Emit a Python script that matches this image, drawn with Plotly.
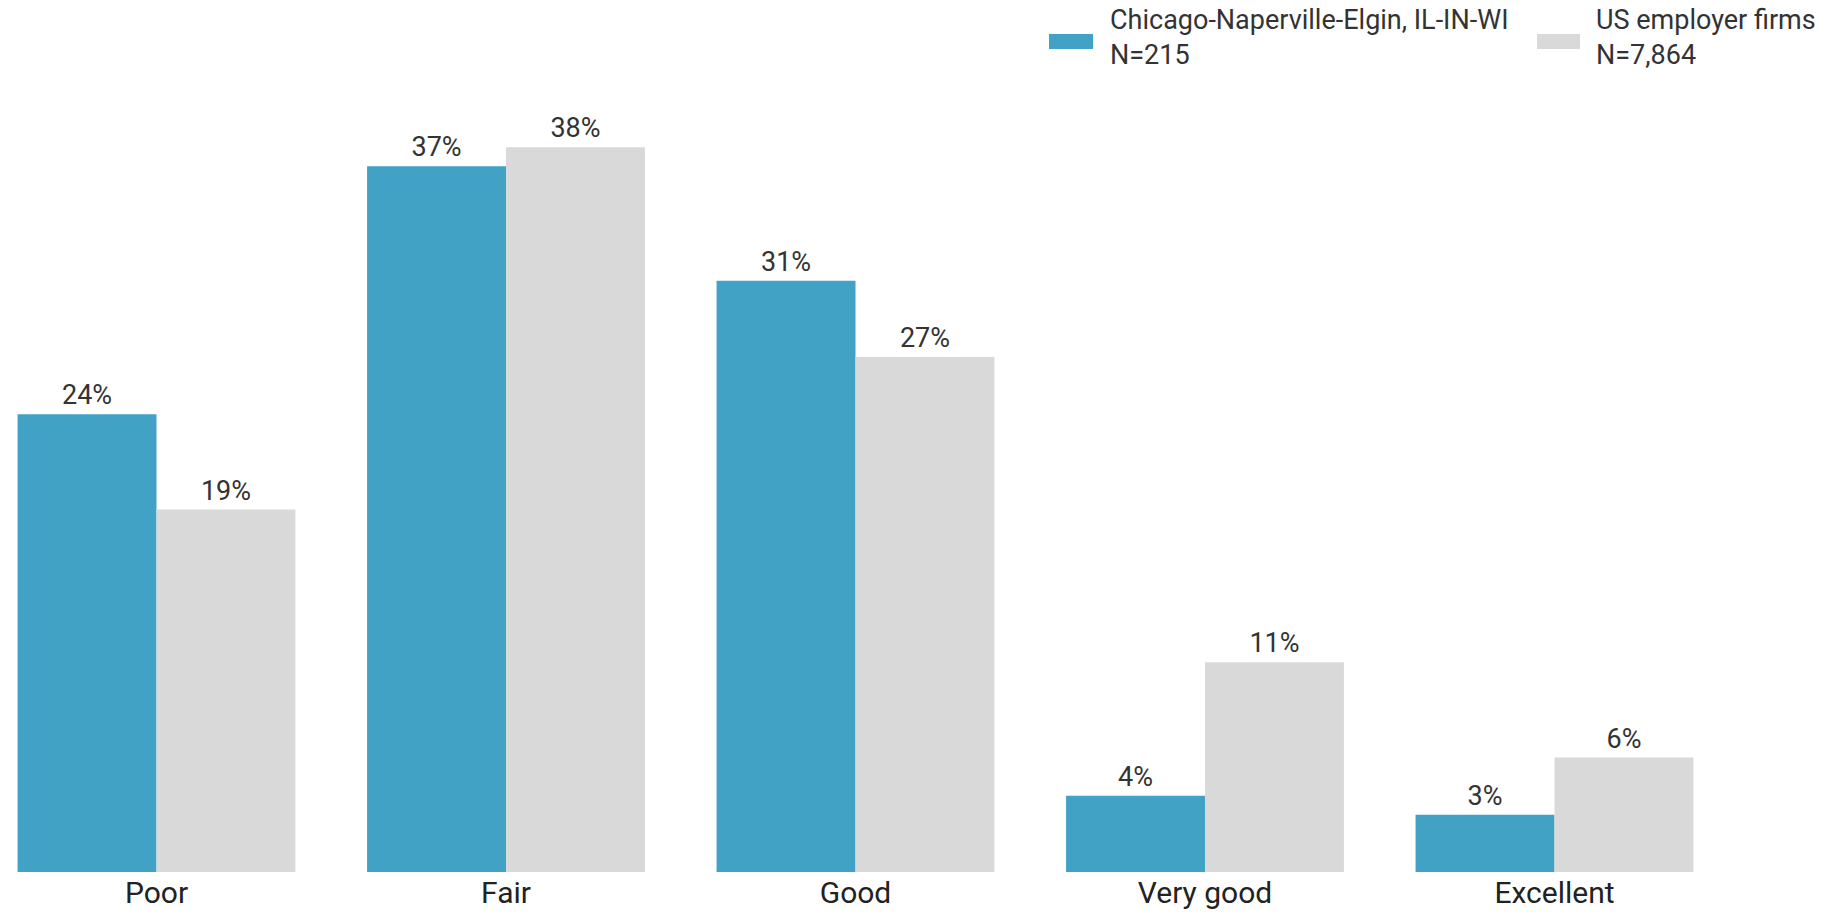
import plotly.graph_objects as go

categories = ["Poor", "Fair", "Good", "Very good", "Excellent"]
chicago_vals = [24, 37, 31, 4, 3]
us_vals = [19, 38, 27, 11, 6]
series_line1 = ["Chicago-Naperville-Elgin, IL-IN-WI", "US employer firms"]
series_line2 = ["N=215", "N=7,864"]
colors = ["#42A2C6", "#D9D9D9"]

FONT = "Roboto"
TXT = "#333333"

W, H = 1845, 914
T, B = 109, 42
PH = H - T - B


def px(xp):
    return xp / W


def py(yp):
    return (H - B - yp) / PH


fig = go.Figure()
for l1, l2, vals, col in zip(series_line1, series_line2, [chicago_vals, us_vals], colors):
    fig.add_trace(go.Bar(
        x=categories, y=vals, name=f"{l1} {l2}",
        marker=dict(color=col, line=dict(width=0)),
        text=[f"{v}%" for v in vals], textposition="outside",
        textfont=dict(family=FONT, size=27, color=TXT),
        cliponaxis=False, showlegend=False,
    ))

# custom legend with wide swatches, as in the reference
legend_pos = [(1049, 1093, 1108), (1537, 1580, 1594)]
for (sx0, sx1, tx), l1, l2, col in zip(legend_pos, series_line1, series_line2, colors):
    fig.add_shape(type="rect", xref="paper", yref="paper",
                  x0=px(sx0), x1=px(sx1), y0=py(49), y1=py(34),
                  fillcolor=col, line=dict(width=0))
    fig.add_annotation(xref="paper", yref="paper", x=px(tx), y=py(37.5),
                       xanchor="left", yanchor="middle", align="left",
                       text=f"{l1}<br>{l2}", showarrow=False,
                       font=dict(family=FONT, size=27, color=TXT))

x0 = -156.5 / 349.5
fig.update_layout(
    width=W, height=H,
    barmode="group", bargap=0.205, bargroupgap=0,
    plot_bgcolor="white", paper_bgcolor="white",
    margin=dict(l=0, r=0, t=T, b=B),
    font=dict(family=FONT, color=TXT),
    xaxis=dict(range=[x0, x0 + W / 349.5], showgrid=False, zeroline=False,
               showline=False, ticks="",
               tickfont=dict(family=FONT, size=30, color="#222222")),
    yaxis=dict(range=[0, 40], visible=False),
    showlegend=False,
)
fig.write_html("out.html", config={"displayModeBar": False},
               post_script="document.body.style.margin='0';document.body.style.overflow='hidden';")
